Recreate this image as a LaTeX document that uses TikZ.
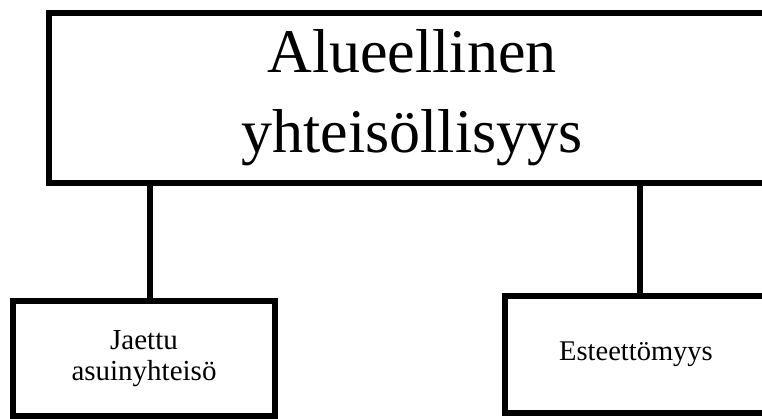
\documentclass[tikz,border=0pt]{standalone}
\usepackage{fontspec}
\setmainfont{Liberation Serif}
\usepackage{tikz}

\begin{document}
\begin{tikzpicture}[x=1pt,y=1pt,
  box/.style={draw,line width=6pt,align=center,inner sep=0pt},
  link/.style={line width=6pt}]
  \useasboundingbox (0,0) rectangle (762,419);
  \node[box,minimum width=726pt,minimum height=170pt,
    font=\fontsize{62}{80}\selectfont] (alue) at (412,321)
    {Alueellinen\\yhteisöllisyys};
  \node[box,minimum width=262pt,minimum height=115pt,
    font=\fontsize{29}{31}\selectfont] (jaettu) at (144,60.5)
    {Jaettu\\asuinyhteisö};
  \node[box,minimum width=262pt,minimum height=117pt,
    font=\fontsize{28.5}{31}\selectfont] (este) at (636,64.5)
    {Esteettömyys};
  \draw[link] ([xshift=6pt]jaettu.north) -- ([xshift=6pt]jaettu.north |- alue.south);
  \draw[link] ([xshift=4pt]este.north) -- ([xshift=4pt]este.north |- alue.south);
\end{tikzpicture}
\end{document}
